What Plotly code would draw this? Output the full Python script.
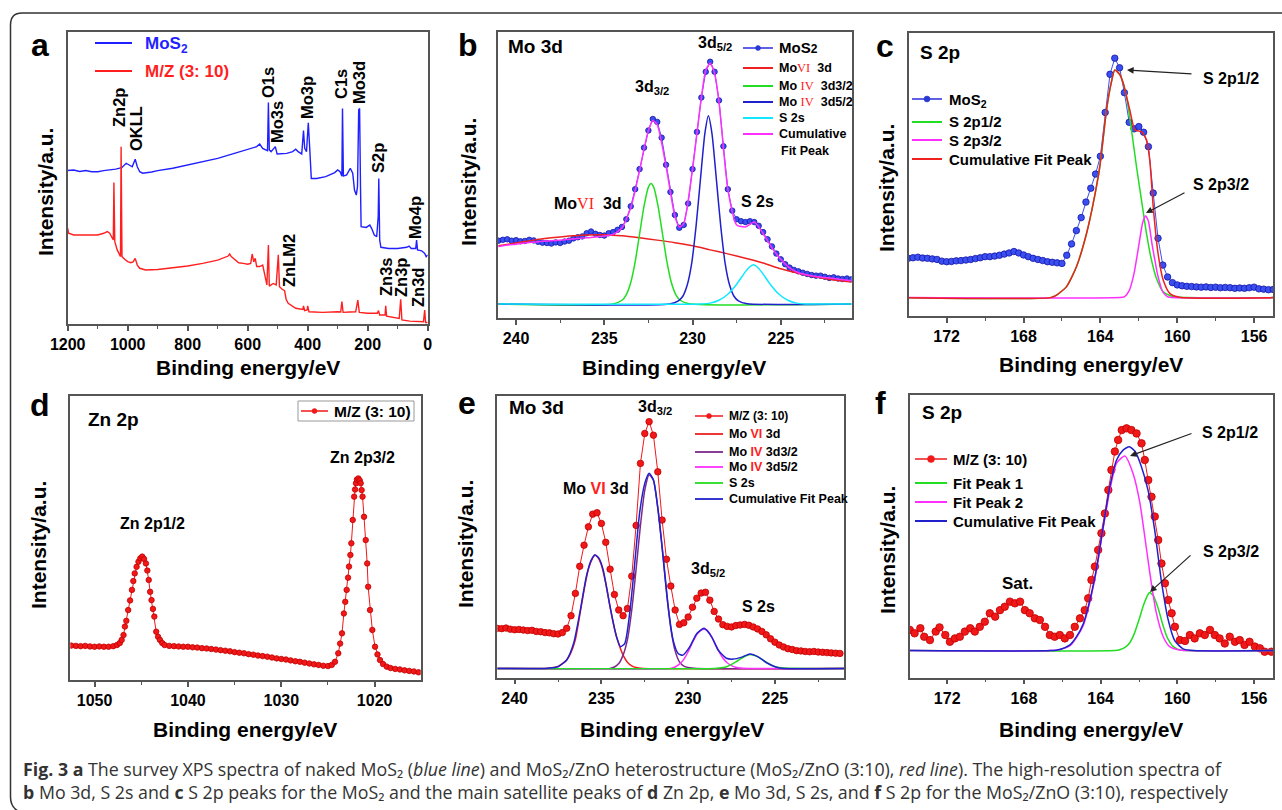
import plotly.graph_objects as go

W, H = 1282, 810
FONT = "Liberation Sans, Arial, Helvetica, sans-serif"
CAP_FONT = "Open Sans, Noto Sans, sans-serif"
AX = "#555555"

# ---------------- (a) survey spectra ----------------
a_mos2_be = [1200, 1180, 1160, 1140, 1120, 1100, 1080, 1060, 1040, 1020, 1005, 995, 985, 975, 968, 960, 950, 920, 900, 850,
             800, 750, 700, 650, 600, 570, 560, 550, 540, 534, 531, 528, 522, 508, 502, 490, 470, 450, 440, 432,
             420, 414, 410, 404, 398, 393, 388, 370, 340, 310, 300, 292, 286, 284, 281, 270, 258, 250, 244, 238,
             234, 230, 227, 224, 222, 205, 193, 187, 178, 170, 165, 163, 160, 156, 130, 100, 70, 62, 55, 40,
             37, 34, 20, 10, 5, 0]
a_mos2_int = [52.6, 52.8, 52.3, 52.6, 52.2, 52.2, 52.6, 52.8, 53.1, 53.6, 55.1, 54.5, 53.9, 56.5, 53.9, 52.2, 51.7, 52.1, 52.6, 53.4,
              54.5, 55.7, 56.8, 58.3, 59.7, 60.8, 61.7, 60.2, 59.7, 59.4, 75.9, 59.7, 59.1, 60.8, 58.3, 58.3, 58.5, 59.1, 59.9, 59.1,
              58.3, 66.3, 60.2, 59.1, 69.0, 59.7, 49.9, 49.9, 50.5, 51.9, 52.8, 52.2, 50.7, 73.9, 50.7, 51.1, 53.4, 51.7, 45.9, 44.2,
              47.1, 73.4, 73.9, 47.1, 33.4, 33.1, 33.9, 32.8, 30.5, 29.9, 36.8, 49.9, 28.8, 26.3, 25.9, 25.9, 26.3, 26.7, 25.9, 25.9,
              28.8, 25.4, 25.1, 24.2, 23.1, 23.7]
a_mz_be = [1200, 1197, 1180, 1150, 1100, 1080, 1068, 1060, 1052, 1048, 1046, 1043, 1035, 1028, 1024, 1022, 1019, 1010, 1000, 990,
           982, 975, 968, 960, 940, 900, 850, 800, 750, 700, 665, 660, 655, 645, 630, 615, 600, 590, 585, 580,
           575, 570, 560, 550, 542, 536, 531, 528, 515, 505, 498, 494, 485, 477, 472, 465, 440, 416, 414, 410,
           402, 400, 396, 350, 300, 290, 286, 282, 260, 240, 233, 228, 200, 168, 164, 160, 142, 140, 137, 110,
           95, 90, 86, 60, 30, 14, 10, 7, 0]
a_mz_int = [32.8, 31.1, 30.5, 30.5, 30.5, 31.1, 31.7, 31.1, 29.4, 28.8, 48.5, 28.2, 25.4, 23.7, 23.1, 60.8, 23.1, 22.2, 21.4, 21.0,
            21.3, 22.5, 20.2, 19.1, 18.5, 18.7, 19.2, 19.9, 20.8, 21.9, 23.3, 24.0, 23.1, 22.2, 21.0, 20.8, 20.5, 20.8, 24.0, 21.3,
            22.5, 19.7, 19.7, 20.2, 16.2, 13.4, 27.1, 13.0, 13.9, 13.4, 23.7, 12.8, 11.9, 11.4, 8.5, 7.1, 5.4, 5.0, 6.2, 4.6,
            4.8, 6.2, 4.2, 4.0, 4.2, 4.1, 7.7, 4.0, 4.1, 4.2, 8.2, 4.0, 3.7, 3.7, 4.6, 3.1, 3.1, 6.2, 2.7, 2.3,
            1.9, 8.5, 1.4, 1.0, 0.8, 0.8, 4.8, 0.5, 0.5]

# ---------------- (b) Mo 3d of MoS2 ----------------
b_be = [241.0, 240.75, 240.5, 240.25, 240.0, 239.75, 239.5, 239.25, 239.0, 238.75, 238.5, 238.25, 238.0, 237.75, 237.5,
        237.25, 237.0, 236.75, 236.5, 236.25, 236.0, 235.75, 235.5, 235.25, 235.0, 234.75, 234.5, 234.25, 234.0, 233.75,
        233.5, 233.25, 233.0, 232.75, 232.5, 232.25, 232.0, 231.75, 231.5, 231.25, 231.0, 230.75, 230.5, 230.25, 230.0,
        229.75, 229.5, 229.25, 229.0, 228.75, 228.5, 228.25, 228.0, 227.75, 227.5, 227.25, 227.0, 226.75, 226.5, 226.25,
        226.0, 225.75, 225.5, 225.25, 225.0, 224.75, 224.5, 224.25, 224.0, 223.75, 223.5, 223.25, 223.0, 222.75, 222.5,
        222.25, 222.0, 221.75, 221.5, 221.25, 221.0]
b_int = [27.0, 27.3, 27.5, 27.0, 27.2, 26.8, 26.9, 27.3, 27.1, 26.6, 26.3, 26.2, 26.0, 26.4, 26.2,
         26.7, 27.0, 27.8, 28.2, 28.5, 29.6, 30.2, 29.4, 29.0, 28.8, 29.6, 30.0, 30.8, 31.8, 34.5,
         39.0, 45.0, 52.0, 59.5, 65.5, 69.5, 68.5, 63.0, 53.5, 44.0, 36.0, 31.5, 32.5, 40.0, 52.0,
         65.0, 77.0, 86.0, 89.5, 86.0, 76.0, 60.0, 45.0, 37.5, 34.5, 33.8, 33.5, 33.8, 33.5, 32.2,
         30.0, 27.5, 25.0, 22.5, 20.5, 18.8, 17.6, 16.8, 16.3, 15.8, 15.4, 15.0, 14.8, 14.8, 14.4,
         14.0, 14.2, 13.8, 13.6, 13.8, 13.5]
b_cum_be = [241, 240.5, 240, 239.5, 239, 238.5, 238, 237.5, 237, 236.5, 236, 235.5, 235, 234.5, 234, 233.5, 233, 232.75,
            232.5, 232.25, 232, 231.5, 231, 230.75, 230.5, 230, 229.5, 229.25, 229, 228.75, 228.5, 228, 227.5, 227,
            226.5, 226, 225.5, 225, 224.5, 224, 223, 222, 221]
b_cum = [25.0, 25.5, 25.8, 26.2, 26.5, 26.8, 27.0, 27.2, 27.5, 27.8, 28.0, 28.3, 28.6, 29.2, 31.5, 38.5, 51.5, 59.0,
         65.5, 69.0, 67.5, 53.0, 35.5, 31.8, 33.0, 52.0, 77.0, 86.5, 89.0, 85.5, 75.5, 45.0, 32.5, 31.8,
         33.5, 29.5, 24.5, 20.5, 17.5, 15.8, 14.5, 13.8, 13.0]
b_vi_be = [241, 240, 239, 238, 237, 236, 235, 234, 233, 232, 231, 230, 229, 228, 227, 226, 225, 224, 223, 222, 221]
b_vi = [25.2, 26.2, 27.2, 28.0, 28.6, 29.0, 29.1, 28.7, 28.0, 27.2, 26.3, 25.2, 23.8, 22.4, 20.9, 19.2, 17.2, 15.6, 14.3, 13.3, 12.6]
b_d32_be = [241, 234.5, 234.0, 233.75, 233.5, 233.25, 233.0, 232.75, 232.5, 232.35, 232.2, 231.95, 231.7, 231.45, 231.2,
            230.95, 230.7, 230.2, 221]
b_d32 = [4.9, 4.9, 6.2, 8.2, 12.4, 19.6, 29.3, 39.0, 45.7, 47.0, 45.7, 39.0, 29.3, 19.6, 12.4, 8.2, 6.2, 5.0, 4.9]
b_d52_be = [241, 231.3, 230.8, 230.55, 230.3, 230.05, 229.8, 229.55, 229.3, 229.1, 228.9, 228.65, 228.4, 228.15, 227.9,
            227.65, 227.4, 226.9, 221]
b_d52 = [4.9, 4.9, 6.0, 7.6, 11.5, 19.0, 32.0, 48.5, 64.5, 70.6, 64.5, 48.5, 32.0, 19.0, 11.5, 7.6, 6.0, 5.0, 4.9]
b_s2s_be = [241, 229.5, 229.0, 228.5, 228.0, 227.5, 227.0, 226.75, 226.55, 226.35, 226.1, 225.6, 225.1, 224.6, 224.1, 223.6, 221]
b_s2s = [4.9, 4.9, 5.2, 6.2, 8.3, 11.8, 16.2, 17.9, 18.6, 17.9, 16.2, 11.8, 8.3, 6.2, 5.2, 4.9, 4.9]

# ---------------- (c) S 2p of MoS2 ----------------
c_be = [174.0, 173.75, 173.5, 173.25, 173.0, 172.75, 172.5, 172.25, 172.0, 171.75, 171.5, 171.25, 171.0, 170.75, 170.5,
        170.25, 170.0, 169.75, 169.5, 169.25, 169.0, 168.75, 168.5, 168.25, 168.0, 167.75, 167.5, 167.25, 167.0, 166.75,
        166.5, 166.25, 166.0, 165.75, 165.5, 165.25, 165.0, 164.75, 164.5, 164.25, 164.0, 163.75, 163.5, 163.25, 163.0,
        162.75, 162.5, 162.25, 162.0, 161.75, 161.5, 161.25, 161.0, 160.75, 160.5, 160.25, 160.0, 159.75, 159.5, 159.25,
        159.0, 158.75, 158.5, 158.25, 158.0, 157.75, 157.5, 157.25, 157.0, 156.75, 156.5, 156.25, 156.0, 155.75, 155.5,
        155.25, 155.0]
c_int = [20.4, 20.6, 20.8, 20.5, 20.4, 20.2, 20.0, 19.4, 19.2, 19.3, 19.5, 19.6, 19.8, 20.0, 20.3,
         20.6, 21.0, 21.0, 21.2, 21.5, 21.9, 22.3, 22.8, 22.3, 21.6, 21.0, 20.4, 20.0, 19.6, 19.2,
         19.0, 18.8, 18.6, 21.5, 25.5, 30.2, 34.8, 40.3, 45.2, 50.2, 56.5, 72.0, 85.5, 91.2, 87.8,
         79.0, 68.5, 66.2, 67.0, 65.0, 59.9, 43.5, 27.5, 18.0, 13.8, 11.8, 11.0, 10.7, 10.5, 10.4,
         10.3, 10.2, 10.3, 10.1, 10.2, 10.0, 10.1, 10.0, 9.8, 9.9, 9.8, 10.0, 10.2, 9.6, 9.5,
         9.3, 9.4]
c_cum_be = [174, 166.6, 166.28, 165.76, 165.24, 164.72, 164.37, 164.03, 163.68, 163.45, 163.25, 163.0, 162.81, 162.47,
            162.2, 161.86, 161.6, 161.43, 161.25, 161.0, 160.73, 160.39, 159.87, 155]
c_cum = [6.5, 6.5, 7.4, 10.4, 17.5, 29.2, 39.9, 52.8, 72.9, 82.0, 87.0, 85.5, 82.3, 72.9,
         65.8, 65.2, 62.3, 55.2, 38.7, 22.2, 12.7, 8.0, 6.6, 6.5]
c_p12_be = [174, 166.6, 166.28, 165.76, 165.24, 164.72, 164.37, 164.03, 163.68, 163.45, 163.25, 163.0, 162.81, 162.6,
            162.38, 162.12, 161.86, 161.6, 161.34, 161.08, 160.73, 160.21, 159.5, 155]
c_p12 = [6.5, 6.5, 7.4, 10.4, 17.5, 29.2, 39.9, 52.8, 72.9, 82.0, 87.0, 85.5, 82.3, 76.0,
         65.8, 52.8, 41.0, 29.2, 19.8, 13.3, 8.6, 6.8, 6.5, 6.5]
c_p32_be = [174, 163.0, 162.75, 162.5, 162.25, 162.0, 161.8, 161.65, 161.5, 161.3, 161.0, 160.75, 160.5, 160.25, 155]
c_p32 = [6.5, 6.5, 6.8, 9.0, 15.0, 25.0, 33.0, 35.4, 33.5, 25.0, 14.0, 8.5, 6.8, 6.5, 6.5]

# ---------------- (d) Zn 2p of M/Z (3:10) ----------------
d_be = [1052.5, 1052.0, 1051.5, 1051.0, 1050.5, 1050.0, 1049.5, 1049.0, 1048.5, 1048.0,
        1047.6, 1047.3, 1047.1, 1046.9, 1046.75, 1046.6, 1046.4, 1046.2, 1046.0, 1045.85,
        1045.7, 1045.5, 1045.3, 1045.1, 1044.9, 1044.7, 1044.5, 1044.35, 1044.2, 1044.05,
        1043.9, 1043.75, 1043.6, 1043.4, 1043.2, 1043.0, 1042.75, 1042.5, 1042.0, 1041.5,
        1041.0, 1040.5, 1040.0, 1039.5, 1039.0, 1038.5, 1038.0, 1037.5, 1037.0, 1036.5,
        1036.0, 1035.5, 1035.0, 1034.5, 1034.0, 1033.5, 1033.0, 1032.5, 1032.0, 1031.5,
        1031.0, 1030.5, 1030.0, 1029.5, 1029.0, 1028.5, 1028.0, 1027.5, 1027.0, 1026.5,
        1026.0, 1025.5, 1025.0, 1024.6, 1024.25, 1023.9, 1023.7, 1023.5, 1023.3, 1023.15,
        1023.0, 1022.85, 1022.75, 1022.6, 1022.5, 1022.35, 1022.2, 1022.1, 1022.0, 1021.9,
        1021.75, 1021.6, 1021.5, 1021.4, 1021.3, 1021.14, 1020.96, 1020.8, 1020.7, 1020.5,
        1020.25, 1019.96, 1019.7, 1019.43, 1019.1, 1018.7, 1018.3, 1017.8, 1017.3, 1016.8,
        1016.3, 1015.8, 1015.3]
d_int = [12.1, 12.0, 11.9, 12.0, 11.8, 11.7, 11.8, 11.7, 11.7, 11.9,
         12.3, 13.0, 14.1, 15.8, 18.8, 20.8, 24.6, 28.0, 31.7, 34.8,
         37.5, 39.8, 41.6, 42.8, 43.4, 42.6, 41.0, 38.5, 35.2, 31.0,
         28.1, 25.0, 22.3, 17.0, 15.2, 14.1, 13.0, 12.3, 12.0, 11.9,
         11.8, 11.7, 11.7, 11.5, 11.4, 11.2, 11.1, 10.9, 10.7, 10.5,
         10.3, 10.1, 9.8, 9.6, 9.4, 9.1, 8.9, 8.6, 8.4, 8.2,
         7.9, 7.6, 7.4, 7.2, 6.9, 6.6, 6.4, 6.1, 5.8, 5.5,
         5.3, 5.0, 4.9, 5.3, 6.4, 9.4, 12.8, 16.4, 23.4, 27.5,
         31.7, 36.0, 39.9, 44.0, 48.1, 56.3, 64.5, 67.0, 69.2, 70.5,
         70.9, 70.2, 69.2, 66.8, 64.5, 57.4, 49.2, 41.0, 32.8, 24.6,
         17.6, 11.7, 9.0, 7.0, 5.6, 4.7, 4.2, 3.9, 3.7, 3.4,
         3.2, 3.0, 2.7]

# ---------------- (e) Mo 3d of M/Z (3:10) ----------------
e_be = [241.0, 240.75, 240.5, 240.25, 240.0, 239.75, 239.5, 239.25, 239.0, 238.75,
        238.5, 238.25, 238.0, 237.75, 237.5, 237.25, 237.0, 236.75, 236.5, 236.25,
        236.0, 235.75, 235.5, 235.25, 235.0, 234.75, 234.5, 234.25, 234.0, 233.75,
        233.5, 233.25, 233.0, 232.75, 232.5, 232.25, 232.0, 231.75, 231.5, 231.25,
        231.0, 230.75, 230.5, 230.25, 230.0, 229.75, 229.5, 229.25, 229.0, 228.75,
        228.5, 228.25, 228.0, 227.75, 227.5, 227.25, 227.0, 226.75, 226.5, 226.25,
        226.0, 225.75, 225.5, 225.25, 225.0, 224.75, 224.5, 224.25, 224.0, 223.75,
        223.5, 223.25, 223.0, 222.75, 222.5, 222.25, 222.0, 221.75, 221.5, 221.25]
e_int = [17.5, 17.4, 17.6, 17.2, 17.0, 17.1, 16.9, 16.7, 16.8, 16.4,
         16.3, 16.0, 15.9, 15.6, 15.5, 16.0, 17.5, 22.0, 29.9, 39.5,
         47.0, 53.5, 58.0, 58.5, 54.7, 48.0, 38.5, 29.5, 24.0, 22.0,
         24.5, 36.0, 54.0, 76.0, 86.6, 90.8, 86.0, 73.0, 55.9, 42.0,
         32.5, 24.0, 18.9, 19.5, 21.5, 25.0, 28.2, 30.0, 30.3, 27.5,
         23.5, 20.8, 18.8, 18.2, 18.0, 18.5, 18.7, 18.9, 18.6, 18.0,
         17.3, 16.4, 15.2, 13.8, 12.6, 11.6, 10.9, 10.3, 10.0, 9.6,
         9.5, 9.3, 9.2, 9.3, 9.1, 9.0, 8.9, 8.8, 8.7, 8.6]
e_vi_be = [241, 238.2, 237.75, 237.5, 237.25, 237.0, 236.75, 236.5, 236.25, 236.0, 235.75, 235.5, 235.38, 235.25,
           235.0, 234.75, 234.5, 234.25, 234.0, 233.75, 233.5, 233.25, 233.0, 232.6, 221]
e_vi = [3.3, 3.3, 3.6, 4.0, 5.0, 6.3, 9.0, 13.5, 22.0, 31.0, 38.5, 42.5, 43.5, 43.0,
        40.0, 33.5, 25.0, 17.5, 12.0, 8.0, 5.5, 4.2, 3.6, 3.3, 3.3]
e_d32_be = [241, 234.5, 234.25, 234.0, 233.75, 233.5, 233.25, 233.0, 232.75, 232.5, 232.25, 232.0, 231.75, 231.5,
            231.25, 231.0, 230.75, 230.5, 230.25, 230.0, 229.5, 221]
e_d32 = [3.3, 3.3, 3.8, 5.0, 8.0, 13.5, 24.0, 38.5, 54.0, 66.5, 72.0, 70.0, 60.0, 46.0,
         30.5, 17.5, 9.5, 5.6, 4.1, 3.6, 3.3, 3.3]
e_d52_be = [241, 231.0, 230.75, 230.5, 230.25, 230.0, 229.75, 229.5, 229.25, 229.08, 228.9, 228.75, 228.5, 228.25,
            228.0, 227.75, 227.5, 227.25, 227.0, 226.5, 221]
e_d52 = [3.3, 3.3, 3.8, 4.8, 6.5, 9.2, 12.5, 15.3, 16.9, 17.2, 16.8, 15.6, 12.8, 9.6,
         7.0, 5.3, 4.3, 3.7, 3.4, 3.3, 3.3]
e_s2s_be = [241, 228.5, 228.0, 227.75, 227.5, 227.25, 227.0, 226.75, 226.5, 226.4, 226.25, 226.0, 225.75, 225.5,
            225.25, 225.0, 224.5, 221]
e_s2s = [3.3, 3.3, 3.6, 4.0, 4.7, 5.6, 6.6, 7.5, 8.1, 8.2, 8.0, 7.4, 6.5, 5.5,
         4.6, 3.9, 3.4, 3.3]
e_cum_be = [241, 238.3, 237.98, 237.5, 237.0, 236.6, 236.25, 235.87, 235.6, 235.38, 235.15, 234.9, 234.5, 234.13,
            233.9, 233.65, 233.37, 233.08, 232.8, 232.5, 232.25, 232.0, 231.73, 231.44, 231.15, 230.87, 230.58,
            230.3, 229.9, 229.5, 229.08, 228.65, 228.27, 227.8, 227.4, 226.9, 226.44, 225.96, 225.48, 224.9,
            224.5, 221]
e_cum = [3.3, 3.3, 3.4, 3.9, 6.3, 12.2, 22.8, 35.8, 41.5, 43.5, 42.5, 38.3, 25.2, 14.5,
         11.0, 12.2, 22.8, 40.5, 58.3, 68.9, 72.5, 70.1, 59.5, 42.9, 25.2, 13.4, 8.6,
         8.0, 11.0, 15.7, 17.5, 14.5, 9.8, 6.9, 6.6, 7.3, 8.4, 7.4, 5.3, 3.7,
         3.3, 3.3]

# ---------------- (f) S 2p of M/Z (3:10) ----------------
f_be = [173.95, 173.7, 173.4, 173.2, 172.9, 172.6, 172.4, 172.1, 171.86, 171.6,
        171.34, 171.08, 170.8, 170.56, 170.3, 170.04, 169.78, 169.5, 169.25, 169.0,
        168.73, 168.47, 168.2, 167.95, 167.7, 167.43, 167.17, 166.9, 166.65, 166.4,
        166.13, 165.87, 165.6, 165.35, 165.08, 164.83, 164.65, 164.48, 164.3, 164.13,
        163.96, 163.78, 163.6, 163.44, 163.26, 163.09, 162.9, 162.65, 162.4, 162.13,
        161.87, 161.7, 161.52, 161.35, 161.18, 161.0, 160.83, 160.65, 160.48, 160.3,
        160.13, 159.87, 159.6, 159.35, 159.1, 158.83, 158.57, 158.3, 158.05, 157.8,
        157.53, 157.27, 157.0, 156.75, 156.5, 156.24, 155.96, 155.7, 155.45, 155.1]
f_int = [16.9, 15.7, 17.5, 14.5, 13.3, 16.3, 17.8, 15.1, 12.7, 13.9,
         14.5, 16.3, 17.5, 16.3, 18.0, 19.8, 22.8, 21.6, 23.9, 25.1,
         26.9, 26.3, 26.9, 23.9, 22.8, 21.0, 20.4, 18.0, 15.1, 14.5,
         15.1, 13.9, 15.1, 18.0, 21.0, 23.9, 28.1, 34.6, 39.3, 45.2,
         51.1, 58.1, 66.4, 73.5, 80.0, 84.1, 87.6, 88.2, 87.6, 86.4,
         82.9, 77.0, 69.9, 64.0, 57.0, 48.7, 40.4, 33.4, 27.5, 22.8,
         18.0, 13.3, 13.0, 15.1, 13.9, 15.7, 15.1, 16.9, 15.1, 13.9,
         12.1, 14.5, 12.7, 13.3, 11.6, 12.7, 11.0, 10.4, 9.2, 9.2]
f_cum_be = [174, 166.6, 166.13, 165.6, 165.26, 164.9, 164.56, 164.2, 163.87, 163.52, 163.17, 162.83, 162.51, 162.2,
            161.87, 161.52, 161.18, 160.83, 160.48, 160.13, 159.7, 159.18, 155]
f_cum = [9.6, 9.6, 10.0, 11.6, 14.5, 19.2, 27.5, 39.3, 53.4, 67.6, 77.0, 80.5, 81.7, 80.0,
         74.5, 66.0, 52.0, 34.0, 20.5, 13.0, 10.2, 9.6, 9.6]
f_pk2_be = [174, 166.6, 166.13, 165.6, 165.26, 164.9, 164.56, 164.2, 163.87, 163.52, 163.17, 162.74, 162.3, 161.96,
            161.6, 161.35, 161.1, 160.74, 160.4, 159.96, 159.5, 155]
f_pk2 = [9.6, 9.6, 10.0, 11.3, 14.2, 18.6, 26.9, 38.7, 52.8, 66.4, 75.9, 78.4, 72.0, 62.0,
         45.0, 33.0, 23.0, 14.5, 11.0, 9.9, 9.6, 9.6]
f_pk1_be = [174, 163.25, 163.0, 162.75, 162.5, 162.25, 162.0, 161.75, 161.5, 161.44, 161.25, 161.0, 160.75, 160.5,
            160.25, 160.0, 159.75, 155]
f_pk1 = [9.6, 9.6, 9.9, 10.6, 12.2, 15.5, 20.5, 26.0, 29.8, 30.1, 29.0, 24.5, 18.5, 13.8,
         11.2, 10.1, 9.7, 9.6]

for xs, ys in [(a_mos2_be, a_mos2_int), (a_mz_be, a_mz_int), (b_be, b_int), (b_cum_be, b_cum), (b_vi_be, b_vi),
               (b_d32_be, b_d32), (b_d52_be, b_d52), (b_s2s_be, b_s2s), (c_be, c_int), (c_cum_be, c_cum),
               (c_p12_be, c_p12), (c_p32_be, c_p32), (d_be, d_int), (e_be, e_int), (e_vi_be, e_vi),
               (e_d32_be, e_d32), (e_d52_be, e_d52), (e_s2s_be, e_s2s), (e_cum_be, e_cum), (f_be, f_int),
               (f_cum_be, f_cum), (f_pk2_be, f_pk2), (f_pk1_be, f_pk1)]:
    assert len(xs) == len(ys), (len(xs), len(ys), xs[:3])

# ---------------- colours ----------------
BLUE_D = "#2a2ae0"
RED_D = "#f01818"
C_RED = "#ee2020"
C_GREEN = "#22dd22"
C_BLUE = "#2020cc"
C_CYAN = "#10e8ff"
C_MAG = "#ff30ff"
C_PURP = "#7a2a8a"


def X(px):
    return px / W


def Y(py):
    return 1 - py / H


fig = go.Figure()

panels = {
    "a": dict(n="", box=(67.7, 427.7, 32.3, 324.0), xr=[1200, 0], dt=200, mdt=100),
    "b": dict(n="2", box=(497.7, 851.7, 31.7, 318.0), xr=[241.04, 220.98], dt=5, mdt=2.5),
    "c": dict(n="3", box=(909.0, 1273.3, 33.3, 316.0), xr=[173.96, 155.0], dt=4, mdt=2),
    "d": dict(n="4", box=(70.3, 420.7, 395.7, 680.0), xr=[1052.6, 1015.07], dt=10, mdt=5),
    "e": dict(n="5", box=(497.3, 844.3, 395.7, 677.7), xr=[241.0, 221.0], dt=5, mdt=2.5),
    "f": dict(n="6", box=(910.0, 1273.3, 395.0, 677.7), xr=[173.94, 155.0], dt=4, mdt=2),
}

layout_axes = {}
for key, p in panels.items():
    n = p["n"]
    l, r, t, b = p["box"]
    layout_axes["xaxis" + n] = dict(
        domain=[X(l), X(r)], range=p["xr"], anchor="y" + n, showline=True, mirror=True,
        linecolor=AX, linewidth=1.5, ticks="outside", ticklen=5, tickwidth=1.5, tickcolor=AX,
        tick0=0, dtick=p["dt"], tickfont=dict(family=FONT, size=16, color="black", weight="bold"),
        minor=dict(tick0=0, dtick=p["mdt"], ticks="outside", ticklen=3, tickwidth=1.2, tickcolor=AX),
        showgrid=False, zeroline=False, fixedrange=True)
    layout_axes["yaxis" + n] = dict(
        domain=[Y(b), Y(t)], range=[0, 100], anchor="x" + n, showline=True, mirror=True,
        linecolor=AX, linewidth=1.5, showticklabels=False, ticks="", showgrid=False,
        zeroline=False, fixedrange=True)


def add_line(key, xs, ys, color, width=1.5, spline=True):
    n = panels[key]["n"]
    fig.add_trace(go.Scatter(x=xs, y=ys, xaxis="x" + n, yaxis="y" + n, mode="lines",
                             line=dict(color=color, width=width, shape="spline" if spline else "linear",
                                       smoothing=0.6),
                             showlegend=False, hoverinfo="skip"))


def add_data(key, xs, ys, color, edge, size):
    n = panels[key]["n"]
    fig.add_trace(go.Scatter(x=xs, y=ys, xaxis="x" + n, yaxis="y" + n, mode="lines+markers",
                             line=dict(color=color, width=1),
                             marker=dict(symbol="circle", size=size, color=color,
                                         line=dict(color=edge, width=0.8)),
                             showlegend=False, hoverinfo="skip"))


# (a)
add_line("a", a_mos2_be, a_mos2_int, "#1f1fff", 1.4, spline=False)
add_line("a", a_mz_be, a_mz_int, "#ff1f1f", 1.4, spline=False)
# (b)
add_data("b", b_be, b_int, "#3a4ff0", "#1515a8", 5.5)
add_line("b", b_vi_be, b_vi, C_RED)
add_line("b", b_d32_be, b_d32, C_GREEN)
add_line("b", b_d52_be, b_d52, C_BLUE)
add_line("b", b_s2s_be, b_s2s, C_CYAN)
add_line("b", b_cum_be, b_cum, C_MAG)
# (c)
add_data("c", c_be, c_int, "#3a4ff0", "#1515a8", 6.5)
add_line("c", c_p12_be, c_p12, C_GREEN)
add_line("c", c_p32_be, c_p32, C_MAG)
add_line("c", c_cum_be, c_cum, C_RED)
# (d)
add_data("d", d_be, d_int, RED_D, "#c00000", 5.5)
# (e)
add_data("e", e_be, e_int, RED_D, "#c00000", 6.5)
add_line("e", e_vi_be, e_vi, C_RED)
add_line("e", e_d32_be, e_d32, C_PURP)
add_line("e", e_d52_be, e_d52, C_MAG)
add_line("e", e_s2s_be, e_s2s, C_GREEN)
add_line("e", e_cum_be, e_cum, C_BLUE)
# (f)
add_data("f", f_be, f_int, RED_D, "#c00000", 7.5)
add_line("f", f_pk1_be, f_pk1, C_GREEN)
add_line("f", f_pk2_be, f_pk2, C_MAG)
add_line("f", f_cum_be, f_cum, C_BLUE)

annotations = []
shapes = []


def txt(x, y, text, size, color="black", xanchor="center", yanchor="middle", angle=0, bold=True, family=FONT,
        align="center"):
    annotations.append(dict(x=X(x), y=Y(y), xref="paper", yref="paper", text=text, showarrow=False,
                            xanchor=xanchor, yanchor=yanchor, textangle=angle, align=align,
                            font=dict(family=family, size=size, color=color,
                                      weight="bold" if bold else "normal")))


def arrow(tx, ty, hx, hy):
    annotations.append(dict(x=X(hx), y=Y(hy), xref="paper", yref="paper", text="", showarrow=True,
                            ax=tx - hx, ay=ty - hy, arrowhead=2, arrowsize=1.1, arrowwidth=1.2,
                            arrowcolor="#222222"))


def leg(x0, x1, y, color, width=2, marker=False, mcolor=None, r=3):
    shapes.append(dict(type="line", xref="paper", yref="paper", x0=X(x0), x1=X(x1), y0=Y(y), y1=Y(y),
                       line=dict(color=color, width=width)))
    if marker:
        xc = (x0 + x1) / 2
        shapes.append(dict(type="circle", xref="paper", yref="paper", x0=X(xc - r), x1=X(xc + r),
                           y0=Y(y + r), y1=Y(y - r), fillcolor=mcolor or color,
                           line=dict(color=mcolor or color, width=0.5)))


RED_VI = '<span style="color:#ff2020;font-family:Liberation Serif;font-weight:normal">{}</span>'

# panel letters
for lab, (lx, ly) in {"a": (40, 45), "b": (468, 45), "c": (885, 46), "d": (40, 405), "e": (467, 403),
                      "f": (880, 403)}.items():
    txt(lx, ly, lab, 32)

# axis titles
for xc, yc in [(248, 367), (674, 367), (1091, 364), (245, 729), (672, 729), (1091, 729)]:
    txt(xc, yc, "Binding energy/eV", 21)
for xc, yc in [(45, 192), (468, 182), (887, 188), (38, 545), (465, 544), (887, 550)]:
    txt(xc, yc, "Intensity/a.u.", 21, angle=-90)

# (a) legend and peak labels
leg(95, 132, 43, "#1f1fff", 2)
txt(143, 45, "MoS<sub>2</sub>", 17, color="#1f1fff", xanchor="left")
leg(95, 132, 71, "#ff1f1f", 2)
txt(143, 71, "M/Z (3: 10)", 17, color="#ff1f1f", xanchor="left")
for t, xc, yc in [("Zn2p", 119, 108), ("OKLL", 136, 129), ("O1s", 268, 83), ("Mo3s", 277, 122),
                  ("Mo3p", 307, 98), ("C1s", 341, 84), ("Mo3d", 359, 83), ("S2p", 378, 158),
                  ("Mo4p", 415, 217), ("ZnLM2", 289, 261), ("Zn3s", 386, 276), ("Zn3p", 401, 278),
                  ("Zn3d", 418, 287)]:
    txt(xc, yc, t, 16.5, angle=-90)

# (b) labels and legend
txt(506, 47, "Mo 3d", 19, xanchor="left")
txt(715, 43, "3d<sub>5/2</sub>", 16)
txt(652, 88, "3d<sub>3/2</sub>", 16)
txt(588, 204, "Mo" + RED_VI.format("VI") + "  3d", 16)
txt(757, 202, "S 2s", 16)
leg(743, 773, 48, BLUE_D, 1.5, marker=True, mcolor="#2a3ad0", r=2.5)
txt(777, 48, 'MoS<span style="font-size:12px">2</span>', 15, xanchor="left")
bl = [(68, C_RED, "Mo" + RED_VI.format("VI") + "  3d"),
      (86, C_GREEN, "Mo " + RED_VI.format("IV") + "  3d3/2"),
      (102, C_BLUE, "Mo " + RED_VI.format("IV") + "  3d5/2"),
      (118, C_CYAN, "S 2s"),
      (134, C_MAG, "Cumulative")]
for yy, col, t in bl:
    leg(743, 773, yy, col, 2)
    txt(777, yy, t, 12.5, xanchor="left")
txt(779, 151, "Fit Peak", 12.5, xanchor="left")

# (c) labels and legend
txt(918, 52, "S 2p", 19, xanchor="left")
txt(1231, 78, "S 2p1/2", 16)
arrow(1193, 74, 1127, 70)
txt(1221, 184, "S 2p3/2", 16)
arrow(1186, 192, 1146, 213)
leg(912, 942, 99, BLUE_D, 1.5, marker=True, mcolor="#2a3ad0", r=3)
txt(947, 100, "MoS<sub>2</sub>", 15, xanchor="left")
for yy, col, t in [(122, C_GREEN, "S 2p1/2"), (140, C_MAG, "S 2p3/2"), (159, C_RED, "Cumulative Fit Peak")]:
    leg(912, 942, yy, col, 2)
    txt(947, yy, t, 15, xanchor="left")

# (d) labels and legend
txt(86, 419, "Zn 2p", 19, xanchor="left")
txt(362, 457, "Zn 2p3/2", 16)
txt(152, 523, "Zn 2p1/2", 16)
shapes.append(dict(type="rect", xref="paper", yref="paper", x0=X(298), x1=X(414), y0=Y(421), y1=Y(401),
                   line=dict(color="#999999", width=1), fillcolor="white"))
leg(301, 328, 411, RED_D, 1.5, marker=True, r=2.5)
txt(332, 411, "M/Z (3: 10)", 15.5, xanchor="left")

# (e) labels and legend
txt(507, 408, "Mo 3d", 19, xanchor="left")
txt(655, 408, "3d<sub>3/2</sub>", 16)
txt(596, 488, 'Mo <span style="color:#ff2020">VI</span> 3d', 16)
txt(708, 569, "3d<sub>5/2</sub>", 16)
txt(758, 606, "S 2s", 16)
leg(695, 723, 416, RED_D, 1.5, marker=True, r=2.5)
txt(727, 416, "M/Z (3: 10)", 12, xanchor="left")
for yy, col, t in [(434, C_RED, 'Mo <span style="color:#ff2020">VI</span> 3d'),
                   (452, C_PURP, 'Mo <span style="color:#ff2020">IV</span> 3d3/2'),
                   (467, C_MAG, 'Mo <span style="color:#ff2020">IV</span> 3d5/2'),
                   (483, C_GREEN, "S 2s"),
                   (499, C_BLUE, "Cumulative Fit Peak")]:
    leg(695, 723, yy, col, 1.8)
    txt(727, yy, t, 12.5, xanchor="left")

# (f) labels and legend
txt(920, 412, "S 2p", 19, xanchor="left")
txt(1230, 432, "S 2p1/2", 16)
arrow(1193, 433, 1130, 456)
txt(1231, 551, "S 2p3/2", 16)
arrow(1192, 554, 1150, 592)
txt(1017, 583, "Sat.", 17)
leg(915, 947, 459, RED_D, 1.5, marker=True, r=3.5)
txt(951, 459, "M/Z (3: 10)", 15, xanchor="left")
for yy, col, t in [(483, C_GREEN, "Fit Peak 1"), (502, C_MAG, "Fit Peak 2"), (521, C_BLUE, "Cumulative Fit Peak")]:
    leg(915, 947, yy, col, 2)
    txt(951, yy, t, 15, xanchor="left")

# caption (one text block, two lines; subscript 2 as a Unicode glyph)
cap1 = ("<b>Fig. 3 a</b> The survey XPS spectra of naked MoS\u2082 (<i>blue line</i>) and "
        "MoS\u2082/ZnO heterostructure (MoS\u2082/ZnO (3:10), <i>red line</i>). "
        "The high-resolution spectra of")
cap2 = ("<b>b</b> Mo 3d, S 2s and <b>c</b> S 2p peaks for the MoS\u2082 and the main satellite peaks of "
        "<b>d</b> Zn 2p, <b>e</b> Mo 3d, S 2s, and <b>f</b> S 2p for the MoS\u2082/ZnO (3:10), respectively")
txt(21, 780, cap1 + "<br>" + cap2, 17.8, color="#333333", xanchor="left", bold=False, family=CAP_FONT,
    align="left")

# outer rounded border (open at right/bottom like the cropped original)
pts = "M {},{} L {},{} Q {},{} {},{} L {},{} Q {},{} {},{}".format(
    X(1300), Y(13), X(22), Y(13), X(10.5), Y(13), X(10.5), Y(25), X(10.5), Y(797), X(10.5), Y(808),
    X(20), Y(812))
shapes.append(dict(type="path", xref="paper", yref="paper", path=pts, line=dict(color="#333333", width=1.5)))

fig.update_layout(
    width=W, height=H, margin=dict(l=0, r=0, t=0, b=0, autoexpand=False),
    paper_bgcolor="white", plot_bgcolor="white", showlegend=False,
    annotations=annotations, shapes=shapes, **layout_axes)

post = ("document.documentElement.style.margin='0';document.documentElement.style.overflow='hidden';"
        "document.body.style.margin='0';document.body.style.padding='0';document.body.style.overflow='hidden';"
        "var gd=document.getElementById('{plot_id}');gd.style.position='absolute';gd.style.left='0px';"
        "gd.style.top='0px';")
fig.write_html("out.html", config={"displayModeBar": False}, post_script=post)
